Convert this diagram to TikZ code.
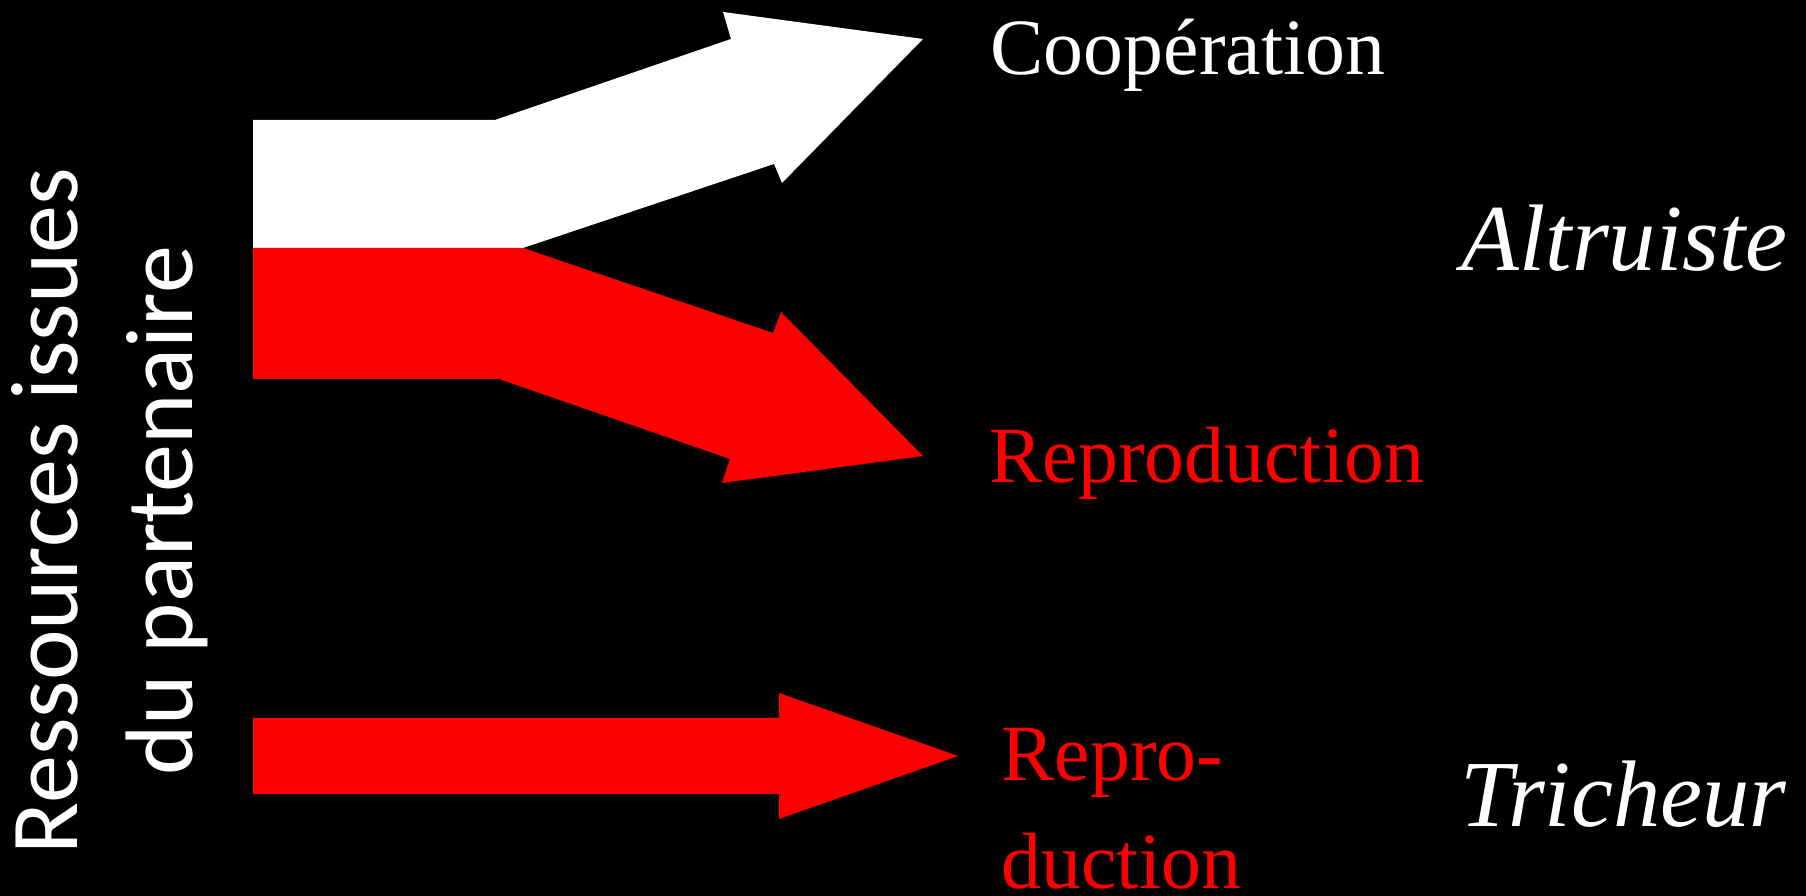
\documentclass[tikz,border=0pt]{standalone}
\usepackage{fontspec}
\setmainfont{Liberation Serif}
\newfontfamily\calibfont{Carlito}
\usepackage{tikz}
\usetikzlibrary{positioning}

\begin{document}
\begin{tikzpicture}[lab/.style={inner sep=0,anchor=base west,
	font=\fontsize{22.7}{27}\selectfont},
	ital/.style={lab,white,font=\fontsize{26.9}{32}\selectfont\itshape}]
\fill[black] (0, 0) rectangle (18.06, 8.96);
\useasboundingbox (0, 0) rectangle (18.06, 8.96);
\fill[white] (2.53, 7.76) -- (4.95, 7.76) -- (7.31, 8.57) -- (7.23, 8.84) -- (9.23, 8.57) -- (7.82, 7.13) -- (7.74, 7.32) -- (5.23, 6.48) -- (2.53, 6.48) -- cycle;
\fill[red] (2.53, 6.48) -- (5.23, 6.48) -- (7.73, 5.63) -- (7.81, 5.84) -- (9.23, 4.40) -- (7.22, 4.13) -- (7.30, 4.37) -- (4.99, 5.17) -- (2.53, 5.17) -- cycle;
\fill[red] (2.53, 1.78) -- (7.79, 1.78) -- (7.79, 2.03) -- (9.58, 1.40) -- (7.79, 0.77) -- (7.79, 1.02) -- (2.53, 1.02) -- cycle;
\node[lab,white] (0) at (9.90, 8.21) {Coopération};
\node[lab,red] (1) at (9.89, 4.13) {Reproduction};
\node[lab,red] (2) at (10.01, 1.15) {Repro-};
\node[lab,red] (3) at (10.01, 0.077) {duction};
\node[ital] (4) at (14.61, 6.25) {Altruiste};
\node[ital] (5) at (14.60, 0.69) {Tricheur};
\node[rotate=90,align=center,white,inner sep=0,
	font=\calibfont\fontsize{27.3}{32.7}\selectfont] (6) at (1.10, 3.85) {Ressources issues\\du partenaire};
\end{tikzpicture}
\end{document}
